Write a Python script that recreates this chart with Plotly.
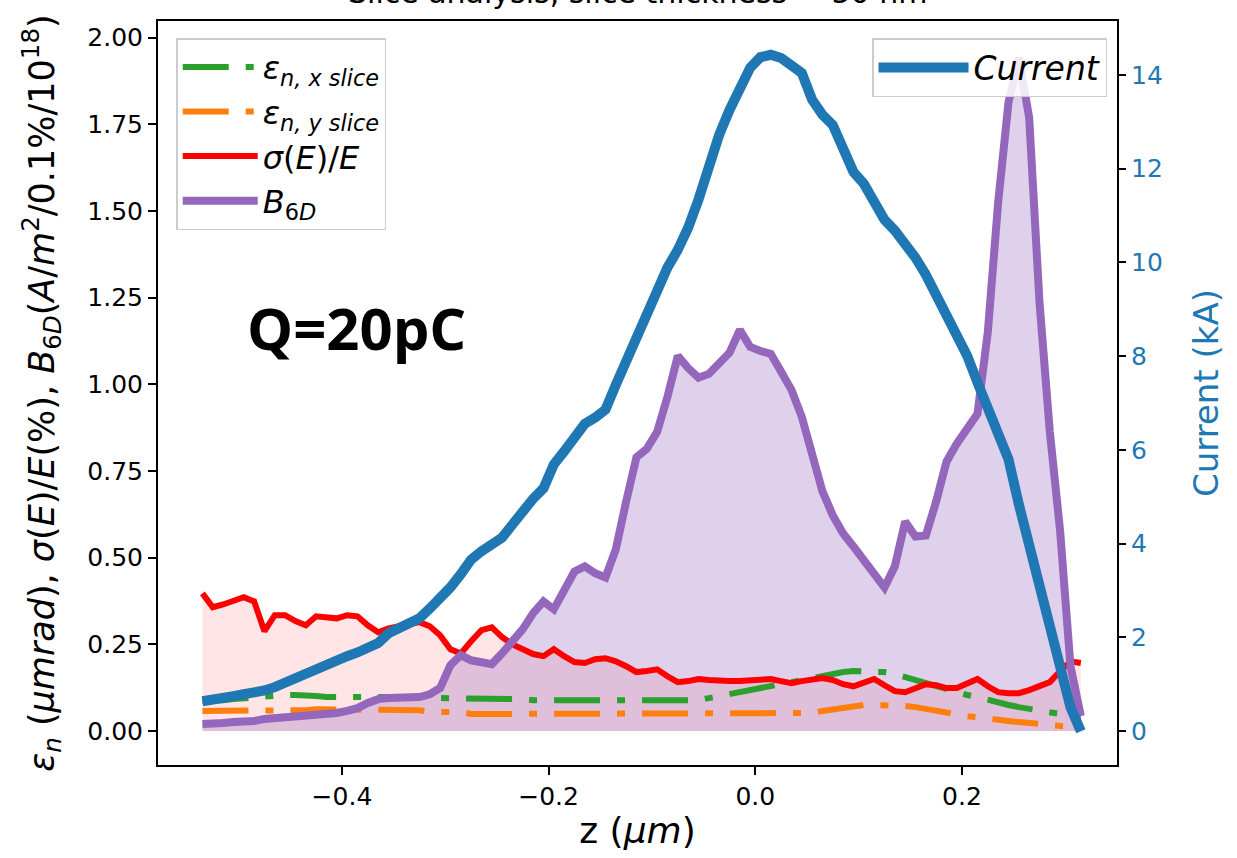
import plotly.graph_objects as go

# slice positions (um)
z = [-0.535, -0.525, -0.515, -0.505, -0.495, -0.485, -0.475, -0.465, -0.455, -0.445,
     -0.435, -0.425, -0.415, -0.405, -0.395, -0.385, -0.375, -0.365, -0.355, -0.345,
     -0.335, -0.325, -0.315, -0.305, -0.295, -0.285, -0.275, -0.265, -0.255, -0.245,
     -0.235, -0.225, -0.215, -0.205, -0.195, -0.185, -0.175, -0.165, -0.155, -0.145,
     -0.135, -0.125, -0.115, -0.105, -0.095, -0.085, -0.075, -0.065, -0.055, -0.045,
     -0.035, -0.025, -0.015, -0.005, 0.005, 0.015, 0.025, 0.035, 0.045, 0.055,
     0.065, 0.075, 0.085, 0.095, 0.105, 0.115, 0.125, 0.135, 0.145, 0.155,
     0.165, 0.175, 0.185, 0.195, 0.205, 0.215, 0.225, 0.235, 0.245, 0.255,
     0.265, 0.275, 0.285, 0.295, 0.305, 0.315]

current_kA = [0.64, 0.66, 0.70, 0.75, 0.79, 0.81, 0.87, 0.94, 1.04, 1.11,
              1.21, 1.34, 1.43, 1.51, 1.60, 1.68, 1.77, 1.88, 2.09, 2.19,
              2.30, 2.41, 2.62, 2.81, 3.07, 3.35, 3.66, 3.84, 3.96, 4.13,
              4.41, 4.71, 4.96, 5.18, 5.69, 5.97, 6.26, 6.56, 6.69, 6.86,
              7.39, 7.88, 8.31, 8.89, 9.42, 9.89, 10.27, 10.74, 11.34, 12.08,
              12.72, 13.25, 13.72, 14.15, 14.38, 14.43, 14.36, 14.23, 14.04, 13.47,
              13.15, 12.93, 12.44, 11.93, 11.68, 11.34, 10.91, 10.68, 10.42, 10.10,
              9.74, 9.31, 8.86, 8.46, 8.01, 7.44, 6.90, 6.39, 5.80, 4.84,
              3.98, 3.03, 2.24, 1.21, 0.51, 0.00]

b6d = [0.020, 0.020, 0.023, 0.026, 0.026, 0.029, 0.035, 0.037, 0.040, 0.043,
       0.046, 0.049, 0.052, 0.052, 0.058, 0.066, 0.081, 0.092, 0.095, 0.095,
       0.095, 0.098, 0.106, 0.124, 0.190, 0.219, 0.204, 0.196, 0.193, 0.224,
       0.256, 0.294, 0.340, 0.374, 0.351, 0.409, 0.460, 0.475, 0.455, 0.443,
       0.524, 0.662, 0.790, 0.814, 0.863, 0.964, 1.082, 1.047, 1.019, 1.030,
       1.059, 1.091, 1.157, 1.108, 1.096, 1.088, 1.036, 0.984, 0.906, 0.791,
       0.691, 0.622, 0.570, 0.532, 0.492, 0.446, 0.414, 0.475, 0.604, 0.561,
       0.564, 0.662, 0.777, 0.829, 0.869, 0.915, 1.151, 1.525, 1.813, 1.942,
       1.770, 1.237, 0.863, 0.576, 0.187, 0.043]

sigma_E = [0.397, 0.357, 0.365, 0.377, 0.386, 0.374, 0.288, 0.334, 0.334, 0.317,
           0.305, 0.331, 0.328, 0.325, 0.334, 0.331, 0.305, 0.285, 0.296, 0.302,
           0.308, 0.314, 0.302, 0.276, 0.236, 0.224, 0.259, 0.291, 0.299, 0.271,
           0.250, 0.236, 0.222, 0.216, 0.236, 0.216, 0.199, 0.196, 0.207, 0.210,
           0.201, 0.187, 0.170, 0.173, 0.178, 0.158, 0.141, 0.144, 0.150, 0.147,
           0.144, 0.144, 0.144, 0.147, 0.150, 0.150, 0.144, 0.138, 0.144, 0.150,
           0.153, 0.147, 0.135, 0.129, 0.141, 0.150, 0.132, 0.115, 0.112, 0.124,
           0.135, 0.132, 0.124, 0.124, 0.135, 0.150, 0.129, 0.112, 0.109, 0.109,
           0.118, 0.129, 0.141, 0.173, 0.201, 0.196]

emit_x = [0.086, 0.086, 0.089, 0.092, 0.095, 0.098, 0.101, 0.104, 0.104, 0.104,
          0.104, 0.101, 0.098, 0.098, 0.098, 0.101, 0.101, 0.101, 0.101, 0.101,
          0.101, 0.101, 0.098, 0.095, 0.095, 0.095, 0.095, 0.092, 0.092, 0.092,
          0.092, 0.092, 0.089, 0.089, 0.089, 0.089, 0.089, 0.089, 0.086, 0.086,
          0.086, 0.086, 0.086, 0.086, 0.086, 0.086, 0.086, 0.086, 0.089, 0.095,
          0.101, 0.106, 0.112, 0.118, 0.124, 0.129, 0.135, 0.141, 0.150, 0.155,
          0.161, 0.167, 0.170, 0.173, 0.173, 0.173, 0.170, 0.164, 0.155, 0.147,
          0.138, 0.129, 0.121, 0.112, 0.104, 0.098, 0.089, 0.081, 0.075, 0.069,
          0.063, 0.058, 0.055, 0.049, 0.046, 0.043]

emit_y = [0.058, 0.058, 0.058, 0.058, 0.058, 0.058, 0.060, 0.060, 0.060, 0.060,
          0.060, 0.063, 0.063, 0.063, 0.063, 0.060, 0.060, 0.060, 0.060, 0.060,
          0.060, 0.060, 0.055, 0.055, 0.055, 0.055, 0.049, 0.049, 0.049, 0.049,
          0.049, 0.049, 0.049, 0.049, 0.052, 0.052, 0.052, 0.052, 0.052, 0.052,
          0.052, 0.052, 0.052, 0.052, 0.052, 0.052, 0.052, 0.052, 0.052, 0.052,
          0.052, 0.049, 0.049, 0.049, 0.049, 0.049, 0.049, 0.049, 0.049, 0.052,
          0.058, 0.063, 0.069, 0.072, 0.075, 0.075, 0.075, 0.075, 0.072, 0.069,
          0.063, 0.058, 0.052, 0.049, 0.043, 0.040, 0.035, 0.032, 0.029, 0.026,
          0.023, 0.020, 0.017, 0.014, 0.012, 0.009]

x_ticks = [-0.4, -0.2, 0.0, 0.2]
x_ticklabels = ["\u22120.4", "\u22120.2", "0.0", "0.2"]
y_ticks = [0.0, 0.25, 0.5, 0.75, 1.0, 1.25, 1.5, 1.75, 2.0]
y_ticklabels = ["0.00", "0.25", "0.50", "0.75", "1.00", "1.25", "1.50", "1.75", "2.00"]
y2_ticks = [0, 2, 4, 6, 8, 10, 12, 14]

BLUE = "#1f77b4"
FONT = "DejaVu Sans"

fig = go.Figure()

# fills (drawn first so lines stay on top)
fig.add_trace(go.Scatter(x=z, y=sigma_E, mode="lines", fill="tozeroy",
                         fillcolor="rgba(255,0,0,0.1)", line=dict(width=0, color="rgba(0,0,0,0)"),
                         showlegend=False, hoverinfo="skip"))
fig.add_trace(go.Scatter(x=z, y=b6d, mode="lines", fill="tozeroy",
                         fillcolor="rgba(148,103,189,0.3)", line=dict(width=0, color="rgba(0,0,0,0)"),
                         showlegend=False, hoverinfo="skip"))

dashdot = "46px,17px,8px,17px"
fig.add_trace(go.Scatter(x=z, y=emit_x, mode="lines", name="<i>ε<sub>n, x slice</sub></i>",
                         line=dict(color="#2ca02c", width=6, dash=dashdot), legendgroup="a"))
fig.add_trace(go.Scatter(x=z, y=emit_y, mode="lines", name="<i>ε<sub>n, y slice</sub></i>",
                         line=dict(color="#ff7f0e", width=6, dash=dashdot), legendgroup="b"))
fig.add_trace(go.Scatter(x=z, y=sigma_E, mode="lines", name="<i>σ</i>(<i>E</i>)/<i>E</i>",
                         line=dict(color="red", width=6), legendgroup="c"))
fig.add_trace(go.Scatter(x=z, y=b6d, mode="lines", name="<i>B</i><sub>6<i>D</i></sub>",
                         line=dict(color="#9467bd", width=8), legendgroup="d"))
fig.add_trace(go.Scatter(x=z, y=current_kA, mode="lines", name="<i>Current</i>",
                         line=dict(color=BLUE, width=10), yaxis="y2", legend="legend2"))

axis_common = dict(showgrid=False, zeroline=False, ticks="outside", ticklen=8, tickwidth=1.5,
                   tickcolor="black")

ytitle = ("<i>ε<sub>n</sub></i> (<i>μmrad</i>), <i>σ</i>(<i>E</i>)/<i>E</i>(%), "
          "<i>B</i><sub>6<i>D</i></sub>(<i>A</i>/<i>m</i><sup>2</sup>/0.1%/10<sup>18</sup>)")

fig.update_layout(
    width=1237, height=858,
    margin=dict(l=158, r=120, t=21, b=93),
    paper_bgcolor="white", plot_bgcolor="white",
    font=dict(family=FONT, color="black", size=25),
    xaxis=dict(range=[-0.578, 0.35], tickvals=x_ticks, ticktext=x_ticklabels,
               showline=True, linecolor="black", linewidth=2, mirror=True,
               tickfont=dict(size=25),
               title=dict(text="z (<i>μm</i>)", font=dict(size=36), standoff=8),
               **axis_common),
    yaxis=dict(range=[-0.098, 2.048], tickvals=y_ticks, ticktext=y_ticklabels,
               showline=True, linecolor="black", linewidth=2, mirror=True,
               tickfont=dict(size=25),
               title=dict(text=ytitle, font=dict(size=35), standoff=22),
               **axis_common),
    yaxis2=dict(range=[-0.72, 15.15], tickvals=y2_ticks, overlaying="y", side="right",
                showline=False, tickfont=dict(size=25, color=BLUE),
                title=dict(text="Current (kA)", font=dict(size=34, color=BLUE), standoff=32),
                **axis_common),
    legend=dict(x=0.019, y=0.977, xanchor="left", yanchor="top",
                bgcolor="rgba(255,255,255,0.85)", bordercolor="#cccccc", borderwidth=1.5,
                font=dict(size=32, family=FONT), tracegroupgap=18, itemwidth=75,
                traceorder="normal"),
    legend2=dict(x=0.9896, y=0.977, xanchor="right", yanchor="top",
                 bgcolor="rgba(255,255,255,0.85)", bordercolor="#cccccc", borderwidth=1.5,
                 font=dict(size=33, family=FONT), itemwidth=90),
    annotations=[
        dict(text="Slice analysis, slice thickness = 50 nm", xref="paper", yref="paper",
             x=0.5, y=1.0125, xanchor="center", yanchor="bottom", showarrow=False,
             font=dict(size=30, family=FONT)),
        dict(text="<b>Q=20pC</b>", xref="paper", yref="paper", x=0.2075, y=0.5874,
             xanchor="center", yanchor="middle", showarrow=False,
             font=dict(size=58, family="Open Sans", color="black")),
    ],
)

fig.write_html("out.html")
